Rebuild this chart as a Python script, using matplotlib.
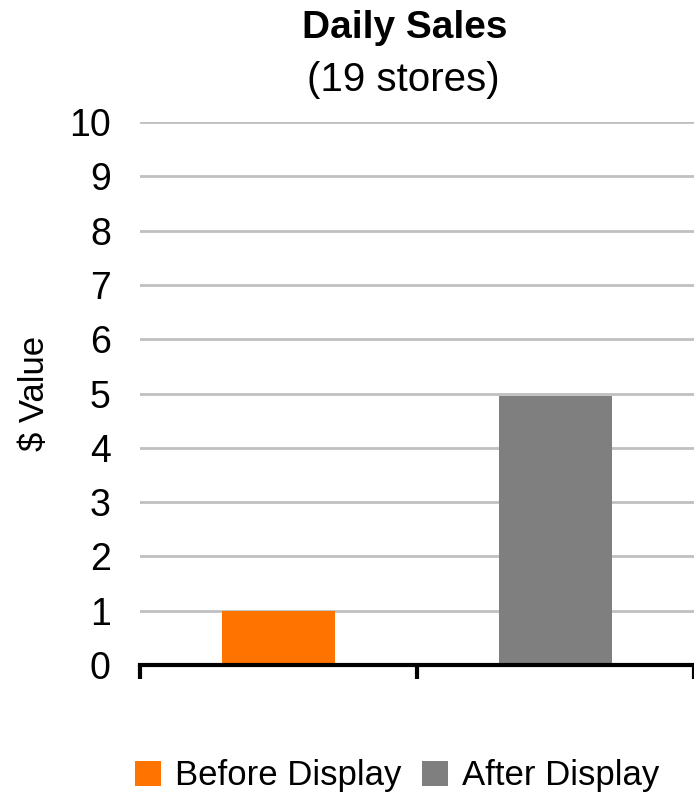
import matplotlib
matplotlib.use("Agg")
import matplotlib.pyplot as plt
from matplotlib.ticker import FixedLocator

categories = ["Before Display", "After Display"]
values = [1.0, 4.95]
colors = ["#ff7300", "#7f7f7f"]
yticks = list(range(0, 11))

plt.rcParams['font.family'] = ['Liberation Sans', 'DejaVu Sans']

W, H = 694, 798
fig = plt.figure(figsize=(W / 100, H / 100), dpi=100)
ax = fig.add_axes([140 / W, 1 - 665 / H, (W - 140) / W, (665 - 122) / H])

x = list(range(len(categories)))
bars = ax.bar(x, values, width=0.41, color=colors, zorder=3)

ax.set_xlim(-0.5, len(categories) - 0.5)
ax.set_ylim(0, 10)
ax.set_yticks(yticks)
ax.set_yticklabels([str(t) for t in yticks], fontsize=27)
ax.yaxis.grid(True, color="#c0c0c0", linewidth=2, zorder=0)
ax.tick_params(axis="y", length=0, pad=21)

ax.set_xticks([])
ax.xaxis.set_minor_locator(FixedLocator([-0.5, 0.5, 1.5]))
ax.tick_params(axis="x", which="minor", direction="out", length=10, width=3, color="black")

for s in ["top", "right", "left"]:
    ax.spines[s].set_visible(False)
ax.spines["bottom"].set_linewidth(3)
ax.spines["bottom"].set_zorder(4)

ax.yaxis.set_label_coords(-(140 - 34) / (W - 140), 0.5)
ax.set_ylabel("$ Value", fontsize=25, va="center")

fig.text(405 / W, 1 - 28 / H, "Daily Sales", ha="center", va="center", fontsize=28, fontweight="bold")
fig.text(403 / W, 1 - 80 / H, "(19 stores)", ha="center", va="center", fontsize=29)

fig.legend(bars, categories, loc="center", bbox_to_anchor=(397 / W, 1 - 776 / H), ncol=2,
           frameon=False, fontsize=25, handlelength=0.75, handleheight=0.75, handletextpad=0.4,
           columnspacing=0.6)

fig.savefig("out.png", dpi=100)
